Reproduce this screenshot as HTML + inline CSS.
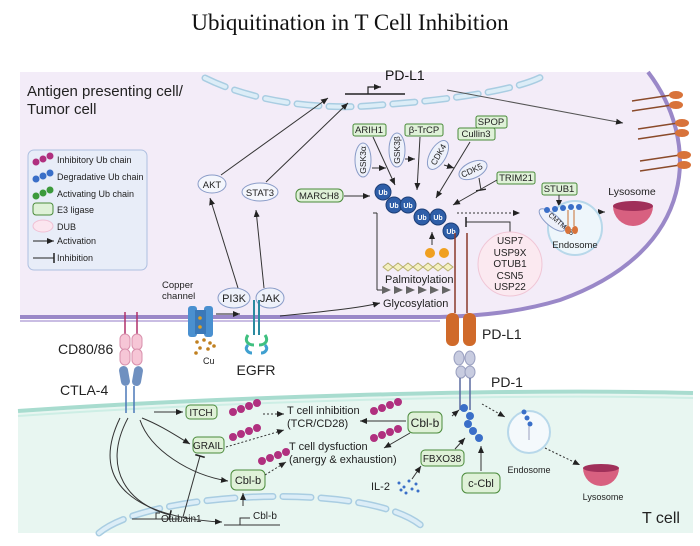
<!DOCTYPE html>
<html><head><meta charset="utf-8"><style>
body{margin:0;background:#fff;width:700px;height:546px;overflow:hidden}
svg{display:block;font-family:"Liberation Sans",sans-serif}
</style></head><body>
<svg width="700" height="546" viewBox="0 0 700 546" xmlns="http://www.w3.org/2000/svg">
<defs>
<marker id="a" markerWidth="8" markerHeight="8" refX="7" refY="4" orient="auto" markerUnits="userSpaceOnUse"><path d="M0,1 L7,4 L0,7z" fill="#222"/></marker>
<marker id="t" markerWidth="4" markerHeight="10" refX="2" refY="5" orient="auto" markerUnits="userSpaceOnUse"><path d="M2,0 V10" stroke="#222" stroke-width="1.5"/></marker>
<g id="pub"><circle cx="0" cy="6" r="4" fill="#b0307f"/><circle cx="8" cy="3" r="4" fill="#b0307f"/><circle cx="16" cy="0" r="4" fill="#b0307f"/><circle cx="24" cy="-3" r="4" fill="#b0307f"/></g>
<g id="lol"><line x1="0" y1="6" x2="40" y2="0" stroke="#8a4a2a" stroke-width="1.5"/><ellipse cx="44" cy="0" rx="7" ry="4" fill="#d8733a"/></g>
</defs>
<text x="350" y="30" text-anchor="middle" font-family="Liberation Serif,serif" font-size="23" fill="#111">Ubiquitination in T Cell Inhibition</text>

<!-- APC cell -->
<path d="M20,72 L648,72 C700,140 700,250 560,300 C520,312 480,316 440,317 L20,317 Z" fill="#f3ecf8"/>
<path d="M20,317 L440,317 C480,316 520,312 560,300 C700,250 700,140 648,72" fill="none" stroke="#9a88c8" stroke-width="4"/>
<path d="M20,321 L440,321" stroke="#c9bde3" stroke-width="2"/>
<path d="M205,78 C260,105 330,110 380,105 C450,100 520,90 545,75" fill="none" stroke="#a9cde2" stroke-width="7" stroke-dasharray="22,10" stroke-linecap="round"/>
<path d="M205,78 C260,105 330,110 380,105 C450,100 520,90 545,75" fill="none" stroke="#dcedf7" stroke-width="4" stroke-dasharray="22,10" stroke-linecap="round"/>
<text x="27" y="96" font-size="15" fill="#222">Antigen presenting cell/</text>
<text x="27" y="114" font-size="15" fill="#222">Tumor cell</text>

<!-- legend -->
<rect x="28" y="150" width="119" height="120" rx="6" fill="#e8edf8" stroke="#aebfe0"/>
<g font-size="9" fill="#222">
<g transform="translate(36,158)"><circle cx="0" cy="4" r="3.5" fill="#b0307f"/><circle cx="7" cy="1" r="3.5" fill="#b0307f"/><circle cx="14" cy="-2" r="3.5" fill="#b0307f"/></g>
<g transform="translate(36,175)"><circle cx="0" cy="4" r="3.5" fill="#3a6fc8"/><circle cx="7" cy="1" r="3.5" fill="#3a6fc8"/><circle cx="14" cy="-2" r="3.5" fill="#3a6fc8"/></g>
<g transform="translate(36,192)"><circle cx="0" cy="4" r="3.5" fill="#3c9a3c"/><circle cx="7" cy="1" r="3.5" fill="#3c9a3c"/><circle cx="14" cy="-2" r="3.5" fill="#3c9a3c"/></g>
<text x="57" y="163">Inhibitory Ub chain</text>
<text x="57" y="180">Degradative  Ub chain</text>
<text x="57" y="197">Activating  Ub chain</text>
<rect x="33" y="203" width="20" height="12" rx="3" fill="#dff1d8" stroke="#4a8a3a"/>
<text x="57" y="213">E3 ligase</text>
<ellipse cx="43" cy="226" rx="10" ry="6" fill="#fbe6ef" stroke="#f0c0d4"/>
<text x="57" y="230">DUB</text>
<line x1="33" y1="241" x2="54" y2="241" stroke="#222" marker-end="url(#a)"/>
<text x="57" y="244">Activation</text>
<line x1="33" y1="258" x2="54" y2="258" stroke="#222" marker-end="url(#t)"/>
<text x="57" y="261">Inhibition</text>
</g>

<!-- PD-L1 gene -->
<line x1="345" y1="94" x2="405" y2="94" stroke="#222" stroke-width="1.5"/>
<path d="M368,94 V87 H381" fill="none" stroke="#222" stroke-width="1.2" marker-end="url(#a)"/>
<text x="385" y="80" font-size="14" fill="#111">PD-L1</text>
<line x1="447" y1="90" x2="623" y2="123" stroke="#555" marker-end="url(#a)"/>
<use href="#lol" x="632" y="95"/><use href="#lol" x="632" y="105"/>
<use href="#lol" x="638" y="123"/><use href="#lol" x="638" y="133"/>
<use href="#lol" x="640" y="155"/><use href="#lol" x="640" y="165"/>

<g font-size="9.5" fill="#222" text-anchor="middle">
<ellipse cx="212" cy="184" rx="14" ry="9" fill="#f4f6fc" stroke="#8a9cc8"/><text x="212" y="188">AKT</text>
<ellipse cx="260" cy="192" rx="18" ry="9" fill="#f4f6fc" stroke="#8a9cc8"/><text x="260" y="196">STAT3</text>
<rect x="296" y="189" width="47" height="13" rx="5" fill="#dff1d8" stroke="#4a8a3a"/><text x="319" y="199">MARCH8</text>
<line x1="221" y1="175" x2="328" y2="98" stroke="#333" marker-end="url(#a)"/>
<line x1="266" y1="182" x2="348" y2="103" stroke="#333" marker-end="url(#a)"/>
<ellipse cx="234" cy="298" rx="16" ry="10" fill="#eef1fa" stroke="#8a9cc8"/><text x="234" y="302" font-size="11">PI3K</text>
<ellipse cx="270" cy="298" rx="14" ry="10" fill="#eef1fa" stroke="#8a9cc8"/><text x="270" y="302" font-size="11">JAK</text>
<line x1="238" y1="288" x2="210" y2="198" stroke="#333" marker-end="url(#a)"/>
<line x1="264" y1="288" x2="256" y2="210" stroke="#333" marker-end="url(#a)"/>
<line x1="344" y1="196" x2="370" y2="196" stroke="#333" marker-end="url(#a)"/>
</g>
<text x="162" y="288" font-size="9.5" fill="#222">Copper</text>
<text x="162" y="299" font-size="9.5" fill="#222">channel</text>
<line x1="216" y1="314" x2="240" y2="314" stroke="#222" marker-end="url(#a)"/>
<path d="M280,316 C320,312 360,308 380,303" fill="none" stroke="#333" marker-end="url(#a)"/>
<text x="383" y="307" font-size="11" fill="#222">Glycosylation</text>

<g font-size="9.5" fill="#222" text-anchor="middle">
<rect x="353" y="124" width="33" height="12" rx="2" fill="#dff1d8" stroke="#4a8a3a"/><text x="369" y="133">ARIH1</text>
<rect x="405" y="124" width="38" height="12" rx="2" fill="#dff1d8" stroke="#4a8a3a"/><text x="424" y="133">β-TrCP</text>
<rect x="476" y="116" width="31" height="12" rx="2" fill="#dff1d8" stroke="#4a8a3a"/><text x="491" y="125">SPOP</text>
<rect x="458" y="128" width="37" height="12" rx="2" fill="#dff1d8" stroke="#4a8a3a"/><text x="476" y="137">Cullin3</text>
<rect x="497" y="172" width="38" height="12" rx="2" fill="#dff1d8" stroke="#4a8a3a"/><text x="516" y="181">TRIM21</text>
<rect x="542" y="183" width="35" height="12" rx="2" fill="#dff1d8" stroke="#4a8a3a"/><text x="559" y="192">STUB1</text>
<ellipse cx="363" cy="160" rx="8" ry="17" fill="#eef1fa" stroke="#8a9cc8"/><text transform="translate(366,160) rotate(-90)" font-size="8.5">GSK3α</text>
<ellipse cx="397" cy="150" rx="8" ry="17" fill="#eef1fa" stroke="#8a9cc8"/><text transform="translate(400,150) rotate(-90)" font-size="8.5">GSK3β</text>
<ellipse cx="438" cy="155" rx="8" ry="16" transform="rotate(30 438 155)" fill="#eef1fa" stroke="#8a9cc8"/><text transform="translate(441,156) rotate(-60)" font-size="8.5">CDK4</text>
<ellipse cx="473" cy="170" rx="15" ry="8" transform="rotate(-25 473 170)" fill="#eef1fa" stroke="#8a9cc8"/><text transform="translate(473,173) rotate(-25)" font-size="8.5">CDK5</text>
</g>
<g stroke="#333" fill="none">
<line x1="373" y1="137" x2="395" y2="185" marker-end="url(#a)"/>
<line x1="420" y1="137" x2="417" y2="190" marker-end="url(#a)"/>
<line x1="470" y1="142" x2="436" y2="198" marker-end="url(#a)"/>
<line x1="372" y1="168" x2="386" y2="168" marker-end="url(#a)"/>
<line x1="405" y1="159" x2="415" y2="159" marker-end="url(#a)"/>
<line x1="444" y1="165" x2="454" y2="168" marker-end="url(#a)"/>
<line x1="479" y1="178" x2="481" y2="190" marker-end="url(#t)"/>
<line x1="497" y1="180" x2="453" y2="205" marker-end="url(#a)"/>
<line x1="559" y1="195" x2="559" y2="207" marker-end="url(#a)"/>
<line x1="457" y1="213" x2="520" y2="213" stroke-dasharray="2,2" marker-end="url(#a)"/>
<line x1="583" y1="212" x2="605" y2="212" stroke-dasharray="2,2" marker-end="url(#a)"/>
<path d="M510,232 V222 H466" marker-end="url(#t)"/>
<path d="M377,213 V290 M377,213 h-4 M377,290 h6"/>
<line x1="432" y1="245" x2="432" y2="232" marker-end="url(#a)"/>
</g>
<g fill="#2e5ea8" stroke="#1d3f78">
<circle cx="383" cy="192" r="8"/><circle cx="394" cy="205" r="8"/><circle cx="408" cy="205" r="8"/><circle cx="422" cy="217" r="8"/><circle cx="438" cy="217" r="8"/><circle cx="451" cy="231" r="8"/>
</g>
<g fill="#fff" font-size="7" font-weight="bold" text-anchor="middle">
<text x="383" y="195">Ub</text><text x="394" y="208">Ub</text><text x="408" y="208">Ub</text><text x="422" y="220">Ub</text><text x="438" y="220">Ub</text><text x="451" y="234">Ub</text>
</g>
<circle cx="430" cy="253" r="5" fill="#f0a020"/><circle cx="444" cy="253" r="5" fill="#f0a020"/>
<path d="M383,267 l5,-4 5,4 -5,4z M393,267 l5,-4 5,4 -5,4z M403,267 l5,-4 5,4 -5,4z M413,267 l5,-4 5,4 -5,4z M423,267 l5,-4 5,4 -5,4z M433,267 l5,-4 5,4 -5,4z M443,267 l5,-4 5,4 -5,4z" fill="#f4f0c0" stroke="#b8b070"/>
<text x="385" y="283" font-size="11" fill="#222">Palmitoylation</text>
<path d="M382,286 l9,4 -9,4z M394,286 l9,4 -9,4z M406,286 l9,4 -9,4z M418,286 l9,4 -9,4z M430,286 l9,4 -9,4z M442,286 l9,4 -9,4z" fill="#666"/>
<circle cx="510" cy="264" r="32" fill="#fbe9f0" stroke="#f0c6d6"/>
<g font-size="10" fill="#222" text-anchor="middle">
<text x="510" y="244">USP7</text><text x="510" y="256">USP9X</text><text x="510" y="267">OTUB1</text><text x="510" y="279">CSN5</text><text x="510" y="290">USP22</text>
</g>
<circle cx="575" cy="228" r="27" fill="#eef6fb" stroke="#b8d8ea" stroke-width="2"/>
<text x="575" y="248" font-size="9.5" text-anchor="middle" fill="#222">Endosome</text>
<ellipse cx="552" cy="220" rx="16" ry="6" transform="rotate(40 552 220)" fill="#eef1fa" stroke="#8a9cc8"/>
<text transform="translate(548,216) rotate(40)" font-size="7" fill="#222">CMTM4/6</text>
<g fill="#3a6fc8"><circle cx="547" cy="210" r="3"/><circle cx="555" cy="209" r="3"/><circle cx="563" cy="208" r="3"/><circle cx="571" cy="207" r="3"/><circle cx="579" cy="207" r="3"/></g>
<line x1="568" y1="210" x2="568" y2="226" stroke="#c87030"/><line x1="574" y1="210" x2="574" y2="226" stroke="#c87030"/>
<ellipse cx="568" cy="230" rx="3" ry="4" fill="#d8733a"/><ellipse cx="575" cy="230" rx="3" ry="4" fill="#d8733a"/>
<text x="632" y="195" font-size="10.5" text-anchor="middle" fill="#222">Lysosome</text>
<path d="M613,206 A20,20 0 0 0 653,206 Z" fill="#d86080"/><ellipse cx="633" cy="206" rx="20" ry="5" fill="#a0305a"/>
<line x1="455" y1="233" x2="455" y2="313" stroke="#8a3a2a" stroke-width="1.5"/><line x1="467" y1="233" x2="467" y2="313" stroke="#8a3a2a" stroke-width="1.5"/>

<!-- T cell -->
<path d="M18,413 C200,400 500,390 693,395 L693,533 L18,533 Z" fill="#e8f6f1"/>
<path d="M18,411 C200,398 500,388 693,393" fill="none" stroke="#a8dccf" stroke-width="4"/>
<path d="M18,416 C200,403 500,393 693,398" fill="none" stroke="#cdeee5" stroke-width="2"/>
<path d="M99,533 C150,490 380,480 426,530" fill="none" stroke="#a9cde2" stroke-width="7" stroke-dasharray="28,10" stroke-linecap="round"/>
<path d="M99,533 C150,490 380,480 426,530" fill="none" stroke="#dcedf7" stroke-width="4" stroke-dasharray="28,10" stroke-linecap="round"/>

<g>
<line x1="125" y1="312" x2="125" y2="335" stroke="#b0306a" stroke-width="1.5"/><line x1="137" y1="312" x2="137" y2="335" stroke="#b0306a" stroke-width="1.5"/>
<rect x="120" y="334" width="10" height="16" rx="5" fill="#f6c6d6" stroke="#d890ac"/><rect x="132" y="334" width="10" height="16" rx="5" fill="#f6c6d6" stroke="#d890ac"/>
<rect x="120" y="349" width="10" height="16" rx="5" fill="#f6c6d6" stroke="#d890ac"/><rect x="132" y="349" width="10" height="16" rx="5" fill="#f6c6d6" stroke="#d890ac"/>
<rect x="120" y="366" width="9" height="20" rx="4.5" fill="#6f90c0" transform="rotate(-10 124 376)"/><rect x="133" y="366" width="9" height="20" rx="4.5" fill="#6f90c0" transform="rotate(10 137 376)"/>
<line x1="126" y1="386" x2="126" y2="413" stroke="#4a78b8" stroke-width="1.5"/><line x1="134" y1="386" x2="134" y2="413" stroke="#4a78b8" stroke-width="1.5"/>
</g>
<text x="58" y="354" font-size="14" fill="#222">CD80/86</text>
<text x="60" y="395" font-size="14" fill="#222">CTLA-4</text>
<rect x="188" y="306" width="9" height="31" rx="3" fill="#4a90d0"/><rect x="204" y="306" width="9" height="31" rx="3" fill="#4a90d0"/><rect x="195" y="310" width="11" height="24" fill="#3a78b8"/>
<circle cx="200" cy="318" r="1.8" fill="#e0a020"/><circle cx="200" cy="327" r="1.8" fill="#e0a020"/>
<g fill="#c08020"><circle cx="197" cy="342" r="1.8"/><circle cx="204" cy="340" r="1.8"/><circle cx="210" cy="343" r="1.8"/><circle cx="200" cy="348" r="1.8"/><circle cx="208" cy="349" r="1.8"/><circle cx="214" cy="346" r="1.8"/><circle cx="196" cy="353" r="1.8"/></g>
<text x="203" y="364" font-size="9" fill="#222">Cu</text>
<line x1="254" y1="300" x2="254" y2="335" stroke="#2a8aa0" stroke-width="2"/><line x1="259" y1="300" x2="259" y2="335" stroke="#2a8aa0" stroke-width="2"/>
<path d="M248,335 c-4,6 0,10 6,10 M265,335 c4,6 0,10 -6,10" fill="none" stroke="#40c080" stroke-width="3"/>
<path d="M248,345 c-4,4 0,8 4,8 M265,345 c4,4 0,8 -4,8" fill="none" stroke="#40a0d0" stroke-width="3"/>
<text x="256" y="375" font-size="14" text-anchor="middle" fill="#222">EGFR</text>
<rect x="446" y="313" width="13" height="33" rx="6" fill="#d06a2a"/><rect x="463" y="313" width="13" height="33" rx="6" fill="#d06a2a"/>
<text x="482" y="339" font-size="14" fill="#222">PD-L1</text>
<ellipse cx="459" cy="358" rx="5" ry="7" fill="#c8cce0" stroke="#9aa0c0"/><ellipse cx="470" cy="358" rx="5" ry="7" fill="#c8cce0" stroke="#9aa0c0"/>
<ellipse cx="461" cy="372" rx="5" ry="6" fill="#c8cce0" stroke="#9aa0c0"/><ellipse cx="470" cy="372" rx="5" ry="6" fill="#c8cce0" stroke="#9aa0c0"/>
<line x1="460" y1="378" x2="460" y2="410" stroke="#5a6aa0" stroke-width="1.5"/><line x1="470" y1="378" x2="470" y2="410" stroke="#5a6aa0" stroke-width="1.5"/>
<text x="491" y="387" font-size="14" fill="#222">PD-1</text>
<g fill="#3a6fc8"><circle cx="464" cy="408" r="4"/><circle cx="470" cy="416" r="4"/><circle cx="468" cy="424" r="4"/><circle cx="473" cy="431" r="4"/><circle cx="479" cy="438" r="4"/></g>

<g font-size="10" fill="#222" text-anchor="middle">
<rect x="186" y="405" width="31" height="14" rx="4" fill="#dff1d8" stroke="#4a8a3a"/><text x="201" y="416">ITCH</text>
<rect x="193" y="437" width="31" height="16" rx="4" fill="#dff1d8" stroke="#4a8a3a"/><text x="208" y="449">GRAIL</text>
<rect x="231" y="470" width="34" height="20" rx="5" fill="#dff1d8" stroke="#4a8a3a"/><text x="248" y="484" font-size="11">Cbl-b</text>
<rect x="408" y="412" width="34" height="21" rx="5" fill="#dff1d8" stroke="#4a8a3a"/><text x="425" y="427" font-size="12">Cbl-b</text>
<rect x="421" y="450" width="43" height="16" rx="4" fill="#dff1d8" stroke="#4a8a3a"/><text x="442" y="462">FBXO38</text>
<rect x="462" y="473" width="38" height="20" rx="5" fill="#dff1d8" stroke="#4a8a3a"/><text x="481" y="487" font-size="11">c-Cbl</text>
</g>
<use href="#pub" x="233" y="406"/><use href="#pub" x="233" y="431"/><use href="#pub" x="262" y="455"/><use href="#pub" x="374" y="405"/><use href="#pub" x="374" y="432"/>
<g font-size="11" fill="#222">
<text x="287" y="414">T cell inhibition</text><text x="287" y="427">(TCR/CD28)</text>
<text x="289" y="450">T cell dysfuction</text><text x="289" y="463">(anergy &amp; exhaustion)</text>
<text x="371" y="490">IL-2</text>
<text x="642" y="523" font-size="16">T cell</text>
<text x="529" y="473" font-size="9" text-anchor="middle">Endosome</text>
<text x="603" y="500" font-size="9" text-anchor="middle">Lysosome</text>
<text x="161" y="522" font-size="10">Otubain1</text>
<text x="253" y="519" font-size="10">Cbl-b</text>
</g>
<g fill="#3a6fc8"><circle cx="399" cy="483" r="1.5"/><circle cx="404" cy="487" r="1.5"/><circle cx="409" cy="481" r="1.5"/><circle cx="412" cy="489" r="1.5"/><circle cx="416" cy="484" r="1.5"/><circle cx="406" cy="493" r="1.5"/><circle cx="418" cy="491" r="1.5"/><circle cx="401" cy="490" r="1.5"/></g>
<circle cx="529" cy="432" r="21" fill="#f4f9fc" stroke="#b8d8ea" stroke-width="2"/>
<g fill="#3a6fc8"><circle cx="524" cy="412" r="2.5"/><circle cx="527" cy="418" r="2.5"/><circle cx="530" cy="424" r="2.5"/></g>
<line x1="529" y1="426" x2="529" y2="440" stroke="#9aa0c0"/>
<path d="M583,468 A18,18 0 0 0 619,468 Z" fill="#d86080"/><ellipse cx="601" cy="468" rx="18" ry="4" fill="#a0305a"/>
<g stroke="#333" fill="none">
<line x1="154" y1="412" x2="183" y2="412" marker-end="url(#a)"/>
<path d="M142,418 C160,425 175,435 190,444" marker-end="url(#a)"/>
<path d="M140,420 C150,450 190,475 228,481" marker-end="url(#a)"/>
<path d="M128,418 C100,470 130,505 170,515" marker-end="url(#t)"/>
<path d="M120,418 C80,500 170,520 222,522" marker-end="url(#a)"/>
<line x1="183" y1="517" x2="200" y2="456" marker-end="url(#t)"/>
<line x1="243" y1="506" x2="243" y2="493" marker-end="url(#a)"/>
<line x1="263" y1="414" x2="284" y2="414" stroke-dasharray="2,2" marker-end="url(#a)"/>
<line x1="226" y1="447" x2="284" y2="430" stroke-dasharray="2,2" marker-end="url(#a)"/>
<line x1="265" y1="475" x2="286" y2="462" stroke-dasharray="2,2" marker-end="url(#a)"/>
<line x1="406" y1="421" x2="360" y2="421" marker-end="url(#a)"/>
<line x1="410" y1="433" x2="384" y2="448" marker-end="url(#a)"/>
<line x1="452" y1="416" x2="459" y2="410" marker-end="url(#a)"/>
<line x1="455" y1="449" x2="465" y2="438" marker-end="url(#a)"/>
<line x1="481" y1="471" x2="481" y2="446" marker-end="url(#a)"/>
<line x1="412" y1="479" x2="421" y2="466" marker-end="url(#a)"/>
<line x1="482" y1="404" x2="505" y2="417" stroke-dasharray="2,2" marker-end="url(#a)"/>
<line x1="545" y1="448" x2="580" y2="465" stroke-dasharray="2,2" marker-end="url(#a)"/>
</g>
<path d="M132,519 H180 M156,519 V513 H160" stroke="#333" fill="none"/>
<path d="M224,525 H280 M240,525 V518 H250" stroke="#333" fill="none"/>
</svg>
</body></html>
